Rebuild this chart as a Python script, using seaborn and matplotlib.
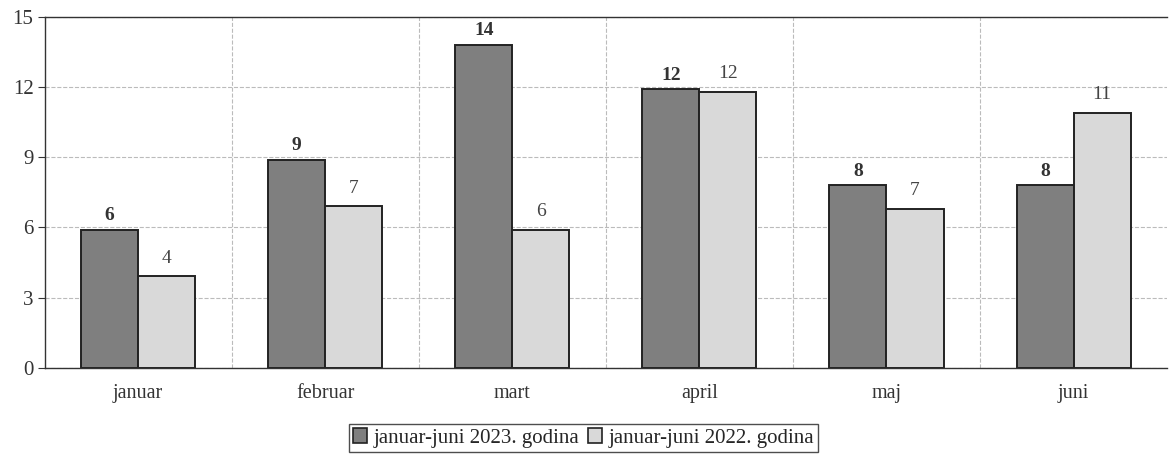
import pandas as pd
import matplotlib.pyplot as plt
import seaborn as sns
from matplotlib.patches import Patch

# months and values (labels are rounded)
months = ["januar", "februar", "mart", "april", "maj", "juni"]
series = ["januar-juni 2023. godina", "januar-juni 2022. godina"]
values_2023 = [5.9, 8.9, 13.8, 11.9, 7.8, 7.8]
values_2022 = [3.9, 6.9, 5.9, 11.8, 6.8, 10.9]
colors = ["#7f7f7f", "#d9d9d9"]


def make_chart():
    df = pd.DataFrame({
        "Mjesec": months * 2,
        "Period": [series[0]] * len(months) + [series[1]] * len(months),
        "Vrijednost": values_2023 + values_2022,
    })

    sns.set_style("white")
    plt.rcParams["font.family"] = ["Liberation Serif", "DejaVu Serif"]

    fig, ax = plt.subplots(figsize=(11.73, 4.54), dpi=100)
    fig.subplots_adjust(left=0.038, right=0.995, top=0.963, bottom=0.19)

    sns.barplot(data=df, x="Mjesec", y="Vrijednost", hue="Period",
                palette=colors, width=0.61, gap=0, saturation=1,
                edgecolor="#222222", linewidth=1.4, legend=False, ax=ax)

    # data labels: 2023 bold, 2022 regular
    ax.bar_label(ax.containers[0], fmt="%.0f", padding=4, fontsize=14,
                 fontweight="bold", color="#333333")
    ax.bar_label(ax.containers[1], fmt="%.0f", padding=7, fontsize=14,
                 color="#444444")

    ax.set_xlim(-0.5, len(months) - 0.5)
    ax.set_ylim(0, 15)
    ax.set_yticks(range(0, 16, 3))
    ax.set_xlabel("")
    ax.set_ylabel("")

    # gridlines between categories and at y ticks
    ax.set_xticks([i + 0.5 for i in range(len(months) - 1)], minor=True)
    ax.grid(axis="y", which="major", linestyle="--", color="#bbbbbb", linewidth=0.8)
    ax.grid(axis="x", which="minor", linestyle="--", color="#bbbbbb", linewidth=0.8)
    ax.set_axisbelow(True)

    ax.tick_params(axis="x", which="major", length=0, labelsize=14.5, pad=12,
                   labelcolor="#333333")
    ax.tick_params(axis="x", which="minor", length=5, color="#333333", direction="out")
    ax.tick_params(axis="y", length=5, color="#333333", direction="out", labelsize=15,
                   labelcolor="#333333", left=True, pad=3)

    for side in ["left", "bottom", "top"]:
        ax.spines[side].set_color("#333333")
        ax.spines[side].set_linewidth(1.0)
    ax.spines["right"].set_visible(False)

    handles = [Patch(facecolor=c, edgecolor="#222222", linewidth=1.2) for c in colors]
    leg = ax.legend(handles, series, loc="upper center", bbox_to_anchor=(0.48, -0.16),
                    ncol=2, frameon=True, fancybox=False, fontsize=15,
                    handlelength=0.7, handleheight=0.7, handletextpad=0.3,
                    columnspacing=0.4, borderpad=0.2, borderaxespad=0)
    leg.get_frame().set_edgecolor("#222222")
    leg.get_frame().set_linewidth(1.0)

    fig.savefig("out.png", dpi=100)


if __name__ == "__main__":
    make_chart()
